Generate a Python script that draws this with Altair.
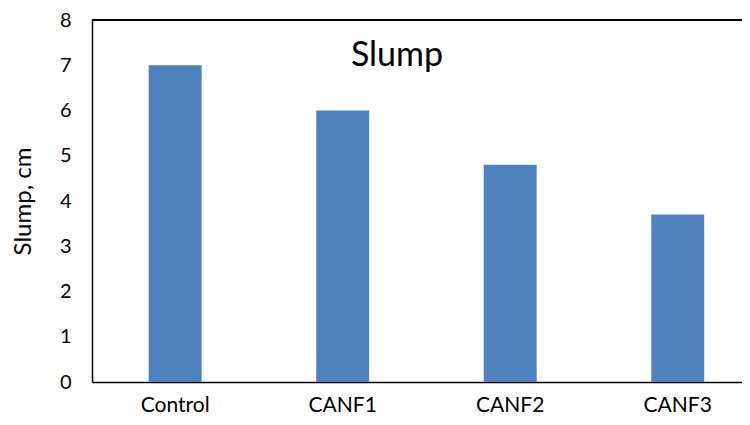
import altair as alt
import pandas as pd

categories = ["Control", "CANF1", "CANF2", "CANF3"]
slump = [7.0, 6.0, 4.8, 3.7]

df = pd.DataFrame({"mix": categories, "slump": slump})
FONT = "Lato"

base = alt.Chart(df)

bars = base.mark_bar(color="#4F81BD").encode(
    x=alt.X("mix:N", sort=categories,
            scale=alt.Scale(paddingInner=0.684, paddingOuter=0.282, align=0.6),
            axis=alt.Axis(title=None, labelAngle=0, ticks=False, domainColor="black",
                          domainWidth=1.5, labelFontSize=21, labelFont=FONT,
                          labelColor="black", labelPadding=12)),
    y=alt.Y("slump:Q", scale=alt.Scale(domain=[0, 8], nice=False),
            axis=alt.Axis(title="Slump, cm", values=list(range(0, 9)), grid=False, ticks=False,
                          domainColor="black", domainWidth=1.5, labelFontSize=20,
                          labelFont=FONT, labelColor="black", labelPadding=21,
                          titleFontSize=24, titleFont=FONT, titleFontWeight="normal",
                          titleColor="black", titlePadding=24)),
)

top_rule = base.mark_rule(color="black", strokeWidth=1.5).encode(
    y=alt.datum(8)
)

title = alt.Chart(pd.DataFrame({"t": ["Slump"]})).mark_text(
    fontSize=34, font=FONT, color="black", align="center", baseline="middle"
).encode(text="t:N", x=alt.value(305), y=alt.value(36))

chart = alt.layer(bars, top_rule, title).properties(
    width=650, height=362,
    autosize=alt.AutoSizeParams(type="none"),
    padding={"left": 84, "top": 12, "right": 0, "bottom": 35},
).configure_view(stroke=None)

chart.save("out.html", embed_options={"renderer": "svg", "actions": False})
